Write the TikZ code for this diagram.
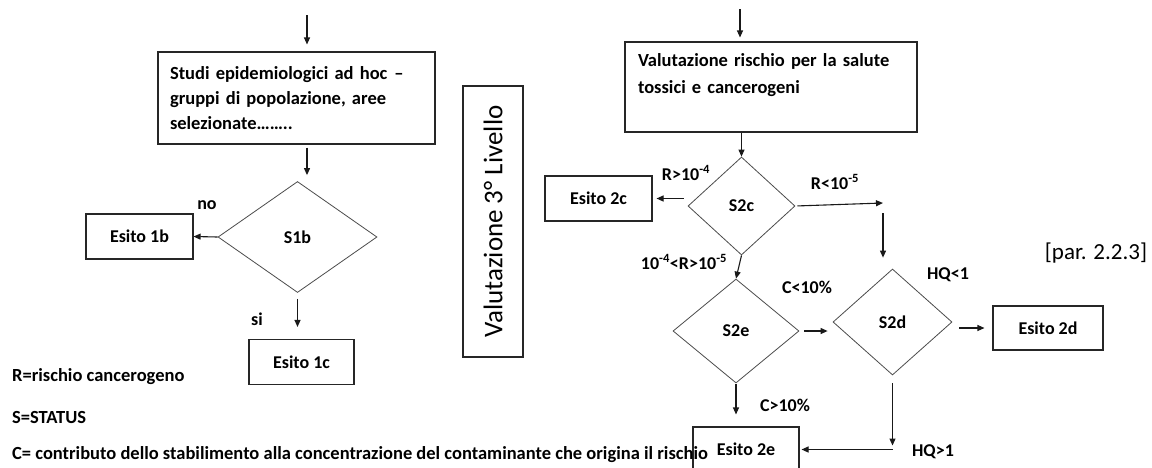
\documentclass[tikz,border=0pt]{standalone}
\usepackage{fontspec}
\setmainfont{Carlito}
\usetikzlibrary{arrows.meta,shapes.geometric}
\begin{document}
\begin{tikzpicture}[x=1pt,y=-1pt,
  boxn/.style={draw=black!85, line width=1.1pt, inner sep=0pt, font=\bfseries\fontsize{18}{21}\selectfont, minimum height=45pt},
  bigbox/.style={draw=black!85, line width=1.1pt, inner xsep=12pt, inner ysep=0pt, align=left, font=\bfseries\fontsize{18.5}{25}\selectfont},
  dia/.style={diamond, draw=black!70, line width=0.8pt, inner sep=0pt, font=\bfseries\fontsize{18}{21}\selectfont},
  arr/.style={-{Triangle[length=7pt,width=6pt]}, line width=1.1pt, black!90},
  lab/.style={font=\bfseries\fontsize{18}{21}\selectfont, inner sep=0pt},
  leg/.style={font=\bfseries\fontsize{18.5}{21}\selectfont, inner sep=0pt, anchor=west}]
\useasboundingbox (0,0) rectangle (1152,467);
\fill[white] (0,0) rectangle (1152,467);

% ---------- left flow ----------
\coordinate (topL) at (307,15);
\node[bigbox, minimum width=277pt, minimum height=92pt, text width=253pt] (studi) at (296.5,98)
  {Studi epidemiologici ad hoc\hspace{7pt}–\\gruppi di popolazione, aree\\selezionate……..};
\node[dia, minimum width=159pt, minimum height=111pt] (s1b) at (297.5,237) {S1b};
\node[boxn, minimum width=107pt] (e1b) at (139.5,236.5) {Esito 1b};
\node[boxn, minimum width=105pt] (e1c) at (301.5,362) {Esito 1c};

\draw[arr, shorten >=7pt] (topL) -- (topL |- studi.north);
\draw[arr, shorten <=3pt, shorten >=6pt] (studi.south -| topL) -- (s1b.north -| topL);
\draw[arr] (s1b.west) -- (e1b.east);
\draw[arr, shorten <=6pt, shorten >=12pt] (s1b.south) -- (s1b.south |- e1c.north);
\node[lab] (no) at (207,205) {no};
\node[lab] (si) at (257,319) {si};

% ---------- level label ----------
\node[draw=black!85, line width=1.1pt, rotate=90, minimum width=271pt, minimum height=60pt, inner sep=0pt,
  font=\fontsize{27}{30}\selectfont] (vlab) at (493,221.5) {Valutazione 3° Livello};

% ---------- right flow ----------
\coordinate (topR) at (740,9);
\node[bigbox, minimum width=292pt, minimum height=90pt, text width=266pt, font=\bfseries\fontsize{18.5}{27}\selectfont] (val) at (771,87)
  {Valutazione rischio per la salute\\tossici e cancerogeni\\\mbox{}};
\node[dia, minimum width=107pt, minimum height=98pt] (s2c) at (741.5,206) {S2c};
\node[boxn, minimum width=107pt] (e2c) at (598.5,198.5) {Esito 2c};
\node[dia, minimum width=126pt, minimum height=104pt] (s2e) at (736,331) {S2e};
\node[dia, minimum width=119pt, minimum height=106pt] (s2d) at (892.5,322) {S2d};
\node[boxn, minimum width=110pt, minimum height=44pt] (e2d) at (1048,328) {Esito 2d};
\node[boxn, minimum width=106pt] (e2e) at (746,449.5) {Esito 2e};

\coordinate (c1) at (883,203);
\coordinate (c2) at (883,213);
\coordinate (c3) at (s2d.south |- e2e.east);

\draw[arr, shorten >=4pt] (topR) -- (topR |- val.north);
\draw[arr] (val.south -| s2c.north) -- (s2c.north);
\draw[arr, shorten <=4pt, shorten >=4pt] (e2c.east -| s2c.west) -- (e2c.east);
\draw[arr, shorten <=2pt] (s2c.east) -- (c1);
\draw[arr, shorten >=11pt] (c2) -- (c2 |- s2d.north);
\draw[arr] (s2c.south) -- (s2e.north);
\draw[arr, shorten <=5pt, shorten >=5pt] (s2e.east) -- (s2e.east -| s2d.west);
\draw[arr, shorten <=7pt, shorten >=8pt] (s2d.east |- e2d.west) -- (e2d.west);
\draw[arr, shorten <=1pt, shorten >=12pt] (s2e.south) -- (s2e.south |- e2e.north);
\draw[arr, shorten <=8pt, shorten >=4pt] (s2d.south) -- (c3);
\draw[arr, shorten >=2pt] (c3) -- (e2e.east);

\node[lab] (l1) at (686,173) {R>10\textsuperscript{-4}};
\node[lab] (l2) at (835,182) {R<10\textsuperscript{-5}};
\node[lab] (l3) at (684,262) {10\textsuperscript{-4}<R>10\textsuperscript{-5}};
\node[lab] (l4) at (807,287) {C<10\%};
\node[lab] (l5) at (785,405) {C>10\%};
\node[lab] (l6) at (948,275) {HQ<1};
\node[lab] (l7) at (933,452) {HQ>1};
\node[font=\fontsize{23}{26}\selectfont, inner sep=0pt] (par) at (1096,253) {[par. 2.2.3]};

% ---------- legend ----------
\node[leg] (lr) at (12,377) {R=rischio cancerogeno};
\node[leg] (ls) at (12,417) {S=STATUS};
\node[leg] (lc) at (12,455) {C= contributo dello stabilimento alla concentrazione del contaminante che origina il rischio};
\end{tikzpicture}
\end{document}
